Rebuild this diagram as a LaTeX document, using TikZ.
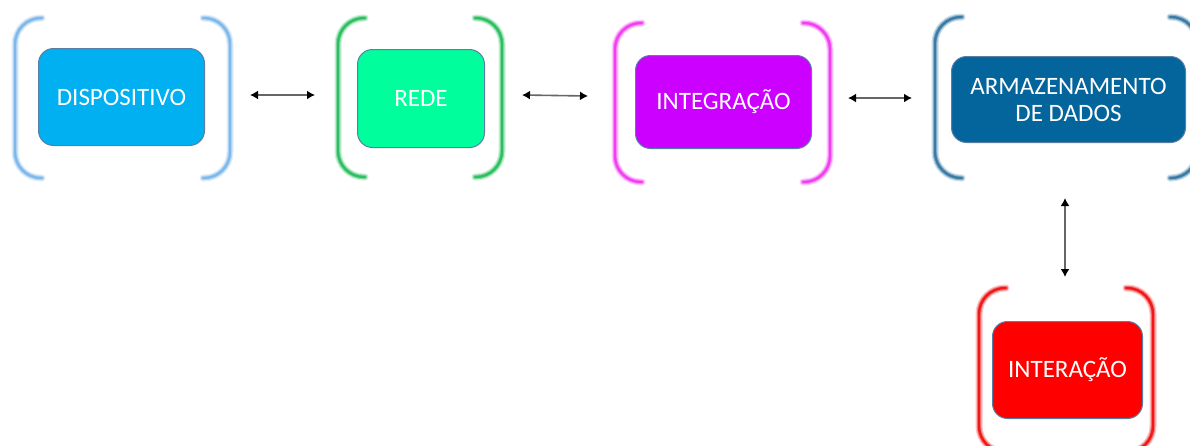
\documentclass[tikz,border=0pt]{standalone}
\usepackage{fontspec}
\setmainfont{Carlito}
\usetikzlibrary{arrows.meta}
\definecolor{cDisp}{HTML}{00B0F0}
\definecolor{cDispB}{HTML}{7FB8EA}
\definecolor{cRede}{HTML}{00FF9C}
\definecolor{cRedeB}{HTML}{2EBF62}
\definecolor{cInt}{HTML}{CC00FF}
\definecolor{cIntB}{HTML}{F040F0}
\definecolor{cArm}{HTML}{04659C}
\definecolor{cArmB}{HTML}{3A7CA6}
\definecolor{cInter}{HTML}{FF0000}
\definecolor{cInterB}{HTML}{F01818}
\definecolor{cEdge}{HTML}{5A7FA6}
\tikzset{
  x=1pt, y=-1pt,
  block/.style={draw=cEdge, line width=1pt, rounded corners=15pt, text=white,
    font=\fontsize{25}{30}\selectfont, align=center, inner sep=0pt, anchor=north west},
  link/.style={draw=black!60, line width=1.6pt, {Latex[length=8pt,width=9pt,color=black]}-{Latex[length=8pt,width=9pt,color=black]}},
  glowwide/.style={line width=7pt, rounded corners=26pt, line cap=round, opacity=0.25},
  glowmid/.style={line width=4.5pt, rounded corners=26pt, line cap=round, opacity=0.45},
  glowcore/.style={line width=2.4pt, rounded corners=26pt, line cap=round},
}
% a pair of glowing brackets: #1 colour, #2 left x, #3 right x, #4 top y, #5 bottom y
\newcommand{\bracketpair}[5]{%
  \foreach \sty in {glowwide,glowmid,glowcore}{%
    \draw[\sty, draw=#1] (#2+27,#4) -- (#2,#4) -- (#2,#5) -- (#2+27,#5);
    \draw[\sty, draw=#1] (#3-27,#4) -- (#3,#4) -- (#3,#5) -- (#3-27,#5);
  }%
}
\begin{document}
\begin{tikzpicture}
\useasboundingbox (0,0) rectangle (1190,445);
\clip (0,0) rectangle (1190,445);

% brackets
\bracketpair{cDispB}{15}{230}{18}{178}
\bracketpair{cRedeB}{338}{502}{18}{177}
\bracketpair{cIntB}{615}{830}{23}{182}
\bracketpair{cArmB}{935}{1197}{17}{178}
\bracketpair{cInterB}{979}{1153}{288}{452}

% blocks
\node[block, fill=cDisp, minimum width=166pt, minimum height=97pt] (disp) at (38,48) {DISPOSITIVO};
\node[block, fill=cRede, minimum width=127pt, minimum height=98pt] (rede) at (357,49) {REDE};
\node[block, fill=cInt, minimum width=176pt, minimum height=93pt] (integ) at (635,55) {INTEGRAÇÃO};
\node[block, fill=cArm, minimum width=234pt, minimum height=86pt] (arm) at (951,56) {ARMAZENAMENTO\\[-3pt]DE DADOS};
\node[block, fill=cInter, minimum width=150pt, minimum height=97pt] (inter) at (992,321) {INTERAÇÃO};

% connector end points
\coordinate (a1) at (250,95);
\coordinate (a2) at (315,95);
\coordinate (b1) at (522,95);
\coordinate (b2) at (588,96);
\coordinate (c1) at (848,98);
\coordinate (c2) at (912,98);
\coordinate (d1) at (1065,198);
\coordinate (d2) at (1065,277);

\draw[link] (a1) -- (a2);
\draw[link] (b1) -- (b2);
\draw[link] (c1) -- (c2);
\draw[link] (d1) -- (d2);
\end{tikzpicture}
\end{document}
